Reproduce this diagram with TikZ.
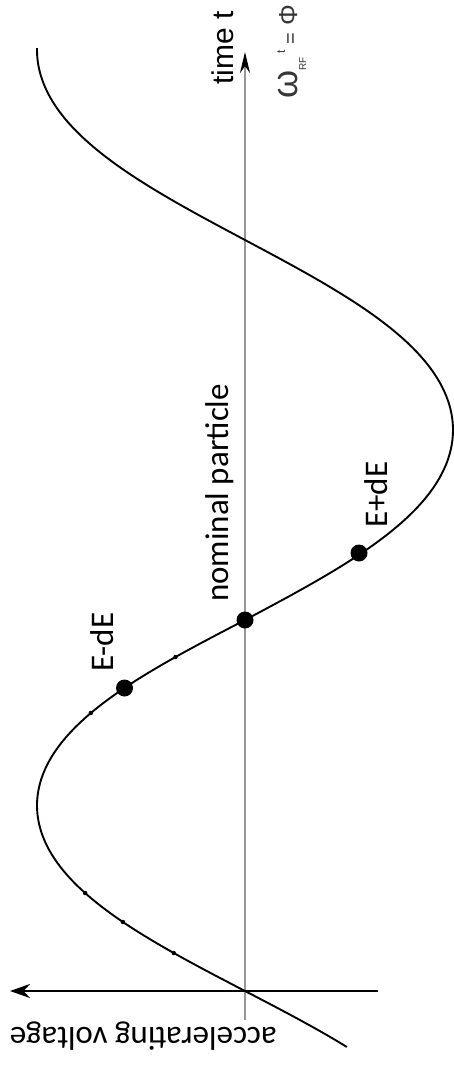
\documentclass[tikz,border=0pt]{standalone}
\usepackage{fontspec}
\setmainfont{Carlito}
\newfontfamily\arialf{Liberation Sans}
\usetikzlibrary{arrows.meta}
\definecolor{axisgray}{RGB}{150,150,150}
\definecolor{labgray}{RGB}{55,55,55}
\begin{document}
\begin{tikzpicture}[x=1pt,y=-1pt,
  dot/.style={circle,fill=black,inner sep=0pt,minimum size=17pt},
  tinymark/.style={circle,fill=black,inner sep=0pt,minimum size=4.5pt},
  lab/.style={inner sep=0pt,font=\fontsize{33}{33}\selectfont},
  curveline/.style={line width=1.9pt},
  timeaxis/.style={axisgray,line width=2.4pt,-{Stealth[length=21pt,width=10pt,color=black]}},
  voltaxis/.style={black,line width=2.6pt,-{Stealth[length=20pt,width=14pt]}}]
\useasboundingbox (0,0) rectangle (454,1065);
% axes
\coordinate (tb) at (245,1020);
\coordinate (tt) at (245,52);
\draw[timeaxis] (tb) -- (tt);
\coordinate (vr) at (378,991);
\coordinate (vl) at (10,991);
\draw[voltaxis] (vr) -- (vl);
% curve
\draw[curveline] plot[domain=-0.474:7.870, samples=320, variable=\p]
  ({245-208*(sin(deg(\p))+0.0225*sin(deg(3*\p)))/0.9775},
   {(\p<pi) ? (991-371*\p/pi) : (620-380*(\p-pi)/pi)});
% small marks on the curve
\node[tinymark] (m1) at (173.8,953) {};
\node[tinymark] (m2) at (122.9,922) {};
\node[tinymark] (m3) at (85.1,893) {};
\node[tinymark] (m4) at (90.8,713) {};
\node[tinymark] (m5) at (175.5,657) {};
% particles
\node[dot] (nom) at (245,620) {};
\node[dot] (emin) at (124.5,688) {};
\node[dot] (eplus) at (359,553) {};
% labels
\node[lab, rotate=90, anchor=base west] (nomlab) at (228,602) {nominal particle};
\node[lab, rotate=90, anchor=base west] (eminlab) at (113.5,672) {E-dE};
\node[lab, rotate=90, anchor=base west] (epluslab) at (387,528) {E+dE};
\node[lab, rotate=180, anchor=base west] (vlab) at (277,1027) {accelerating voltage};
\node[inner sep=0pt, rotate=90, anchor=base west, font=\arialf\fontsize{30}{30}\selectfont] (tlab) at (233,85) {time t};
\node[inner sep=0pt, rotate=90, anchor=base west, text=labgray, font=\arialf] (philab) at (297,99)
  {{\fontsize{36}{36}\selectfont ω}\raisebox{-9pt}{\fontsize{10}{10}\selectfont RF}\hspace{4pt}\raisebox{12pt}{\fontsize{12}{12}\selectfont t}\hspace{6pt}{\fontsize{20}{20}\selectfont =}\hspace{7pt}{\fontsize{26}{26}\selectfont Φ}};
\end{tikzpicture}
\end{document}
